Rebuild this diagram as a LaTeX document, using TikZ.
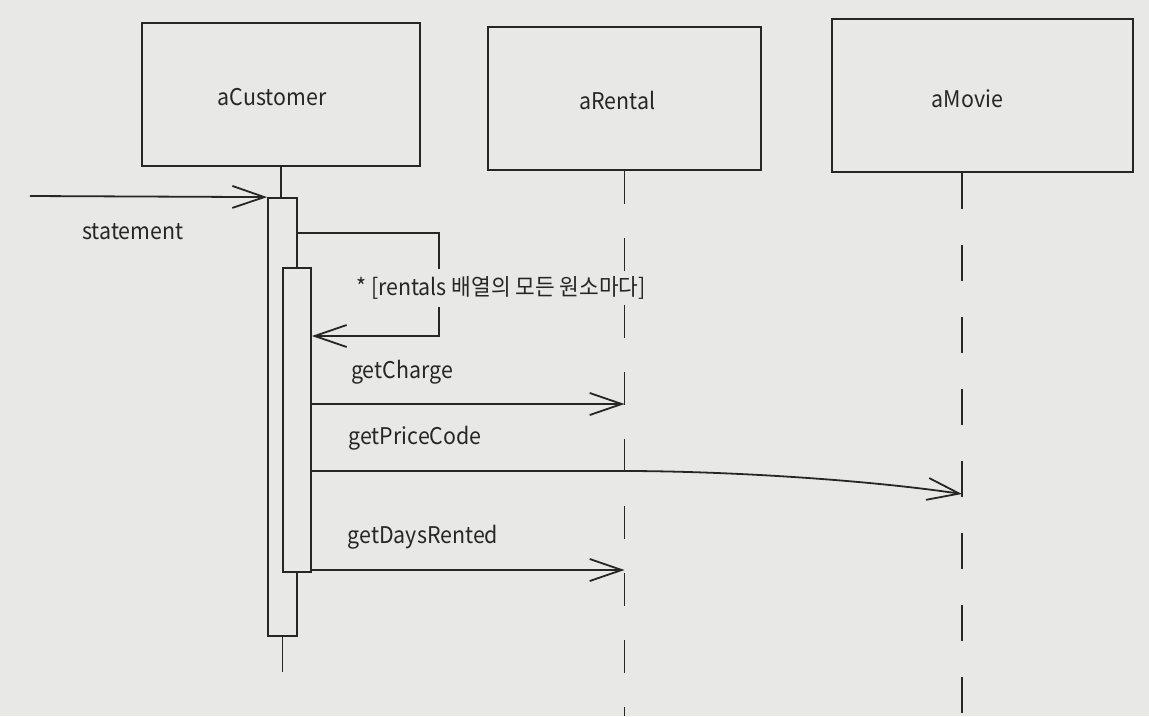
\documentclass[tikz,border=0pt]{standalone}
\usepackage{fontspec}
\setmainfont{Noto Sans CJK KR}[FakeStretch=0.93]
\usetikzlibrary{arrows.meta}
\definecolor{bg}{HTML}{E8E8E6}
\definecolor{lc}{HTML}{262626}
\definecolor{tc}{HTML}{262626}
\begin{document}
\begin{tikzpicture}[x=1pt,y=-1pt,
  obj/.style={draw=lc, line width=1.8pt, fill=bg, inner sep=0pt},
  act/.style={draw=lc, line width=1.8pt, fill=bg, inner sep=0pt},
  lbl/.style={text=tc, font=\fontsize{23}{27}\selectfont, inner sep=2pt},
  msg/.style={draw=lc, line width=1.8pt, -{Straight Barb[length=32pt,width=22pt]}},
  life/.style={draw=lc, line width=1.8pt}]
\fill[bg] (0,0) rectangle (1149,716);
\useasboundingbox (0,0) rectangle (1149,716);

% objects
\node[obj, minimum width=278pt, minimum height=143pt,
  label={[lbl, xshift=-9pt, yshift=-3pt]center:aCustomer}] (cust) at (281,94.5) {};
\node[obj, minimum width=273pt, minimum height=143pt,
  label={[lbl, xshift=-7pt, yshift=-2pt]center:aRental}] (rent) at (624.5,98.5) {};
\node[obj, minimum width=301pt, minimum height=153pt,
  label={[lbl, xshift=-15pt, yshift=-3pt]center:aMovie}] (movie) at (982.5,95.5) {};

% activations
\node[act, minimum width=29pt, minimum height=438pt] (act1) at (282.5,417) {};
\node[act, minimum width=28pt, minimum height=304pt] (act2) at (297,420) {};

% customer lifeline
\coordinate (custEnd) at (283,672);
\draw[life] (cust.south) -- (cust.south |- act1.north);
\draw[life] (act1.south) -- (act1.south |- custEnd);

% statement
\coordinate (src) at (30,196);
\draw[msg] (src) -- (act1.north west);
\node[lbl] (statement) at (133,232) {statement};

% loop
\coordinate (loopR) at (439,233);
\coordinate (loopB) at (439,336);
\draw[msg] (act1.east |- loopR) -- (loopR) -- (loopB) -- (act2.east |- loopB);
\node[lbl, fill=bg, inner ysep=8pt] (guard) at (501,288) {* [rentals 배열의 모든 원소마다]};

% other lifelines
\coordinate (rentEnd) at (624.5,716);
\coordinate (movieEnd) at (962,716);
\draw[life, dash pattern=on 33pt off 34pt] (rent.south) -- (rentEnd);
\draw[life, dash pattern=on 36pt off 36pt] (movie.south -| movieEnd) -- (movieEnd);

% getCharge
\node[lbl] (gc) at (402,372) {getCharge};
\coordinate (y1) at (0,404);
\draw[msg] (act2.east |- y1) -- (rent.south |- y1);

% getPriceCode
\node[lbl] (gpc) at (415,438) {getPriceCode};
\coordinate (y2) at (0,471);
\coordinate (pcEnd) at (0,494);
\draw[msg] (act2.east |- y2) -- (rent.south |- y2) .. controls (720,471) and (860,479) .. (movieEnd |- pcEnd);

% getDaysRented
\node[lbl] (gdr) at (423,537) {getDaysRented};
\coordinate (y3) at (0,570);
\draw[msg] (act2.east |- y3) -- (rent.south |- y3);
\end{tikzpicture}
\end{document}
